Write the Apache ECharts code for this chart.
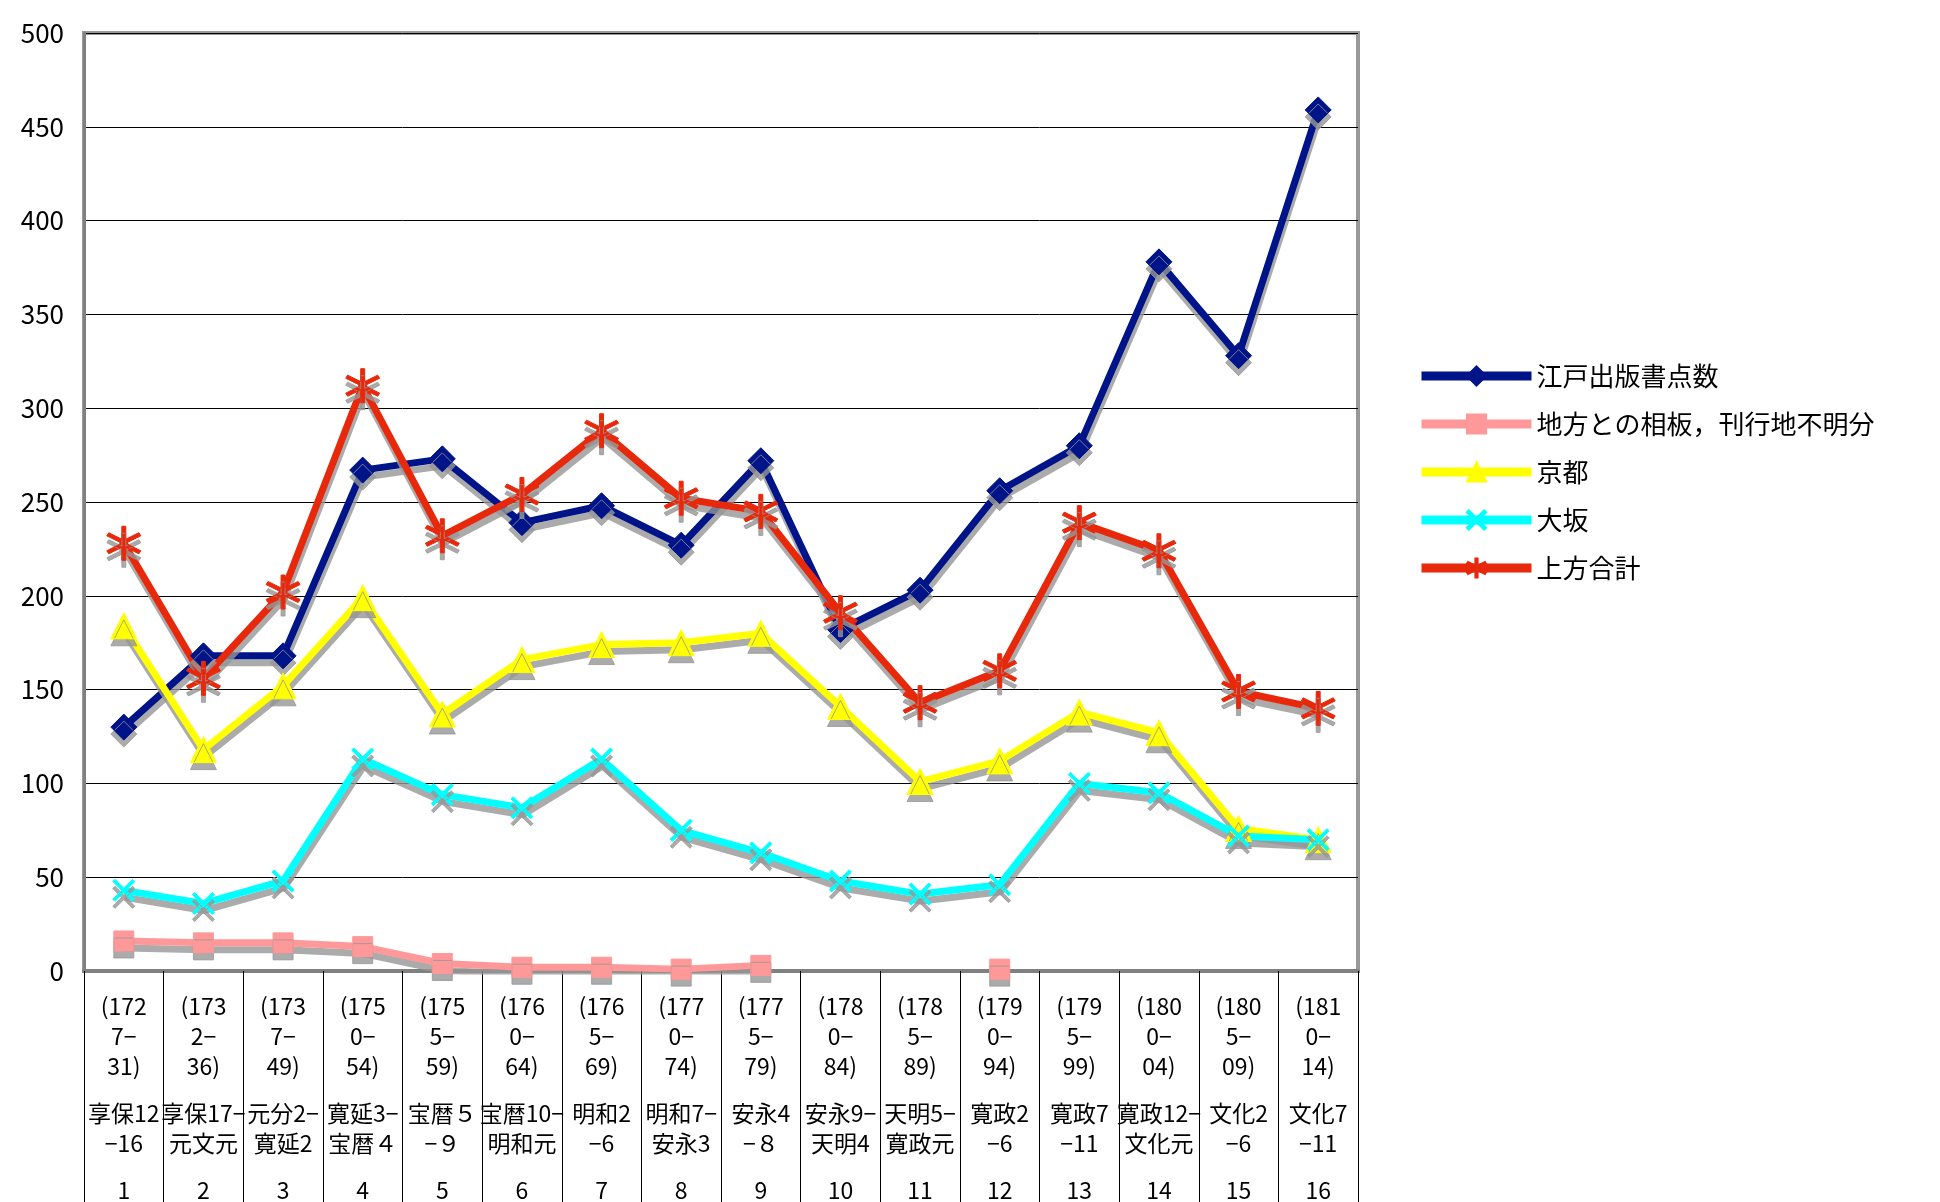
<!DOCTYPE html>
<html>
<head>
<meta charset="utf-8">
<script src="https://cdn.jsdelivr.net/npm/echarts@6/dist/echarts.min.js"></script>
<style>html,body{margin:0;padding:0;background:#fff}#main{width:1940px;height:1202px}</style>
</head>
<body>
<div id="main"></div>
<script>
var myChart = echarts.init(document.getElementById('main'));

// 期間（年）、元号、番号
var years = ['(172\n7−\n31)', '(173\n2−\n36)', '(173\n7−\n49)', '(175\n0−\n54)', '(175\n5−\n59)', '(176\n0−\n64)', '(176\n5−\n69)', '(177\n0−\n74)',
    '(177\n5−\n79)', '(178\n0−\n84)', '(178\n5−\n89)', '(179\n0−\n94)', '(179\n5−\n99)', '(180\n0−\n04)', '(180\n5−\n09)', '(181\n0−\n14)'];
var eras = ['享保12\n−16', '享保17−\n元文元', '元分2−\n寛延2', '寛延3−\n宝暦４', '宝暦５\n−９', '宝暦10−\n明和元', '明和2\n−6', '明和7−\n安永3',
    '安永4\n−８', '安永9−\n天明4', '天明5−\n寛政元', '寛政2\n−6', '寛政7\n−11', '寛政12−\n文化元', '文化2\n−6', '文化7\n−11'];
var nums = ['1', '2', '3', '4', '5', '6', '7', '8', '9', '10', '11', '12', '13', '14', '15', '16'];

var dataEdo = [130, 168, 168, 267, 273, 239, 248, 227, 272, 182, 203, 256, 280, 378, 328, 459];
var dataChiho = [16, 15, 15, 13, 4, 2, 2, 1, 3, null, null, 1, null, null, null, null];
var dataKyoto = [184, 118, 152, 199, 137, 166, 174, 175, 180, 141, 101, 112, 138, 127, 76, 70];
var dataOsaka = [43, 36, 48, 113, 94, 87, 113, 75, 63, 48, 41, 46, 100, 95, 72, 70];
var dataKamigata = [228, 156, 202, 312, 232, 254, 288, 252, 245, 191, 143, 160, 239, 224, 149, 140];

var categories = years.map(function (y, i) { return String(i); });

function wrap(s) {
    return s.split('\n').map(function (l) { return '{t|' + l + '}'; }).join('\n');
}

var star = 'path://M45,0 L55,0 L55,38 L88,19 L93,28 L60,47 L60,53 L93,72 L88,81 L55,62 L55,100 L45,100 L45,62 L12,81 L7,72 L40,53 L40,47 L7,28 L12,19 L45,38 Z';

function makeSeries(name, data, color, symbol, size) {
    return {
        name: name,
        type: 'line',
        data: data,
        symbol: symbol,
        symbolSize: size,
        showSymbol: true,
        connectNulls: false,
        animation: false,
        lineStyle: {
            width: 7,
            color: color,
            shadowColor: 'rgba(150,150,150,0.8)',
            shadowOffsetY: 7,
            shadowOffsetX: 1
        },
        itemStyle: {
            color: color,
            borderColor: color,
            borderWidth: 1,
            shadowColor: 'rgba(150,150,150,0.8)',
            shadowOffsetY: 7
        }
    };
}

option = {
    backgroundColor: '#fff',
    textStyle: { fontFamily: '"Noto Sans CJK JP", sans-serif' },
    grid: { left: 84, right: 582, top: 33, bottom: 231, outerBoundsMode: 'none', containLabel: false },
    legend: {
        orient: 'vertical',
        left: 1412,
        top: 358,
        itemWidth: 110,
        itemHeight: 24,
        itemGap: 22,
        lineStyle: { width: 9, shadowBlur: 0, shadowOffsetY: 0 },
        itemStyle: { shadowOffsetY: 0 },
        textStyle: { fontSize: 26, color: '#000', fontFamily: '"Noto Sans CJK JP", sans-serif' },
        data: ['江戸出版書点数', '地方との相板，刊行地不明分', '京都', '大坂', '上方合計']
    },
    xAxis: {
        type: 'category',
        data: categories,
        boundaryGap: true,
        axisLine: { lineStyle: { color: '#808080', width: 4 } },
        axisTick: { show: true, alignWithLabel: false, length: 240, lineStyle: { color: '#000', width: 1 } },
        axisLabel: {
            interval: 0,
            margin: 20,
            formatter: function (v) {
                var i = +v;
                return wrap(years[i]) + '\n{g| }\n' + wrap(eras[i]) + '\n{g| }\n' + wrap(nums[i]);
            },
            rich: {
                t: { fontSize: 23, lineHeight: 30, color: '#000', fontFamily: '"Liberation Sans Narrow", "Noto Sans CJK JP", sans-serif' },
                g: { fontSize: 10, lineHeight: 17 }
            }
        }
    },
    yAxis: {
        type: 'value',
        min: 0,
        max: 500,
        interval: 50,
        axisLine: { show: true, lineStyle: { color: '#808080', width: 3 } },
        axisTick: { show: false },
        axisLabel: { fontSize: 26, color: '#000', margin: 20 },
        splitLine: { lineStyle: { color: '#000', width: 1 } }
    },
    graphic: [{
        type: 'rect',
        shape: { x: 84, y: 33, width: 1274, height: 938 },
        style: { fill: 'none', stroke: '#999', lineWidth: 4 },
        silent: true,
        z: 0
    }],
    series: [
        makeSeries('江戸出版書点数', dataEdo, '#001489', 'diamond', 26),
        makeSeries('地方との相板，刊行地不明分', dataChiho, '#ff9999', 'rect', 20),
        makeSeries('京都', dataKyoto, '#ffff00', 'triangle', 26),
        makeSeries('大坂', dataOsaka, '#00ffff', 'path://M10,0 L50,40 L90,0 L100,10 L60,50 L100,90 L90,100 L50,60 L10,100 L0,90 L40,50 L0,10 Z', 22),
        makeSeries('上方合計', dataKamigata, '#e8280a', star, 34)
    ]
};
myChart.setOption(option);
</script>
</body>
</html>
